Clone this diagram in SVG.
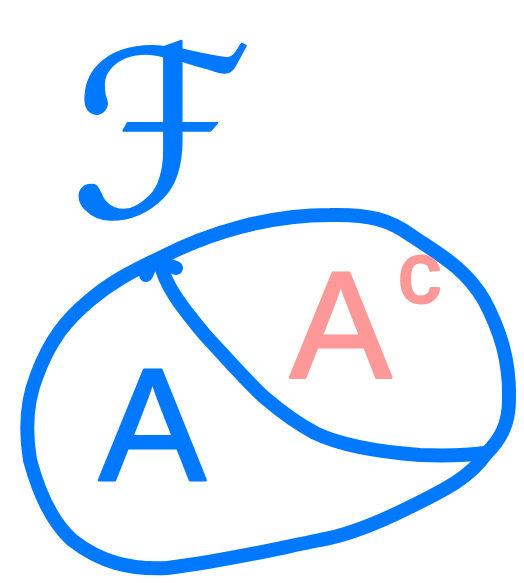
<svg xmlns="http://www.w3.org/2000/svg" width="524" height="583" viewBox="0 0 524 583">
<style>
.ink{fill:none;stroke:#0079FF;stroke-width:14;stroke-linecap:round;stroke-linejoin:round}
.blue{fill:#0079FF;stroke:#0079FF;stroke-width:3;stroke-linejoin:round;font-family:"Liberation Sans",Arial,sans-serif}
.pink{fill:#FF9999;stroke:#FF9999;stroke-width:3;stroke-linejoin:round;font-family:"Liberation Sans",Arial,sans-serif}
</style>
<rect width="524" height="583" fill="#fff"/>
<g id="label-F">
<text class="blue" x="70" y="216" font-size="232" style="font-family:'DejaVu Sans',sans-serif;stroke-width:2">ℱ</text>
</g>
<g id="set-outline">
<path class="ink" d="M160,258 C210,232 270,215 330,215 C370,214 390,220 412,236 C440,255 465,268 484,300 C500,330 510,360 509,400 C509,425 500,440 485,455 C470,478 440,492 410,507 C380,522 350,535 320,540 C270,550 230,560 167,568 C130,570 100,562 72,540 C50,520 38,490 30,460 C25,430 27,400 37,375 C50,340 66,320 90,300 C110,283 130,272 160,258 Z"/>
<path class="ink" d="M146,275 L150,266 M168,265 L176,268"/>
</g>
<g id="connectors">
<path class="ink" d="M160,262 C165,285 180,305 205,335 C230,362 250,385 265,398 C285,415 300,425 315,433 C340,445 380,452 420,455 C450,456 470,455 485,453"/>
</g>
<g id="region-A">
<text class="blue" x="99" y="480" font-size="160">A</text>
</g>
<g id="region-Ac">
<text class="pink" x="290" y="378" font-size="152">A</text>
<text class="pink" x="398" y="302" font-size="86">c</text>
</g>
</svg>
